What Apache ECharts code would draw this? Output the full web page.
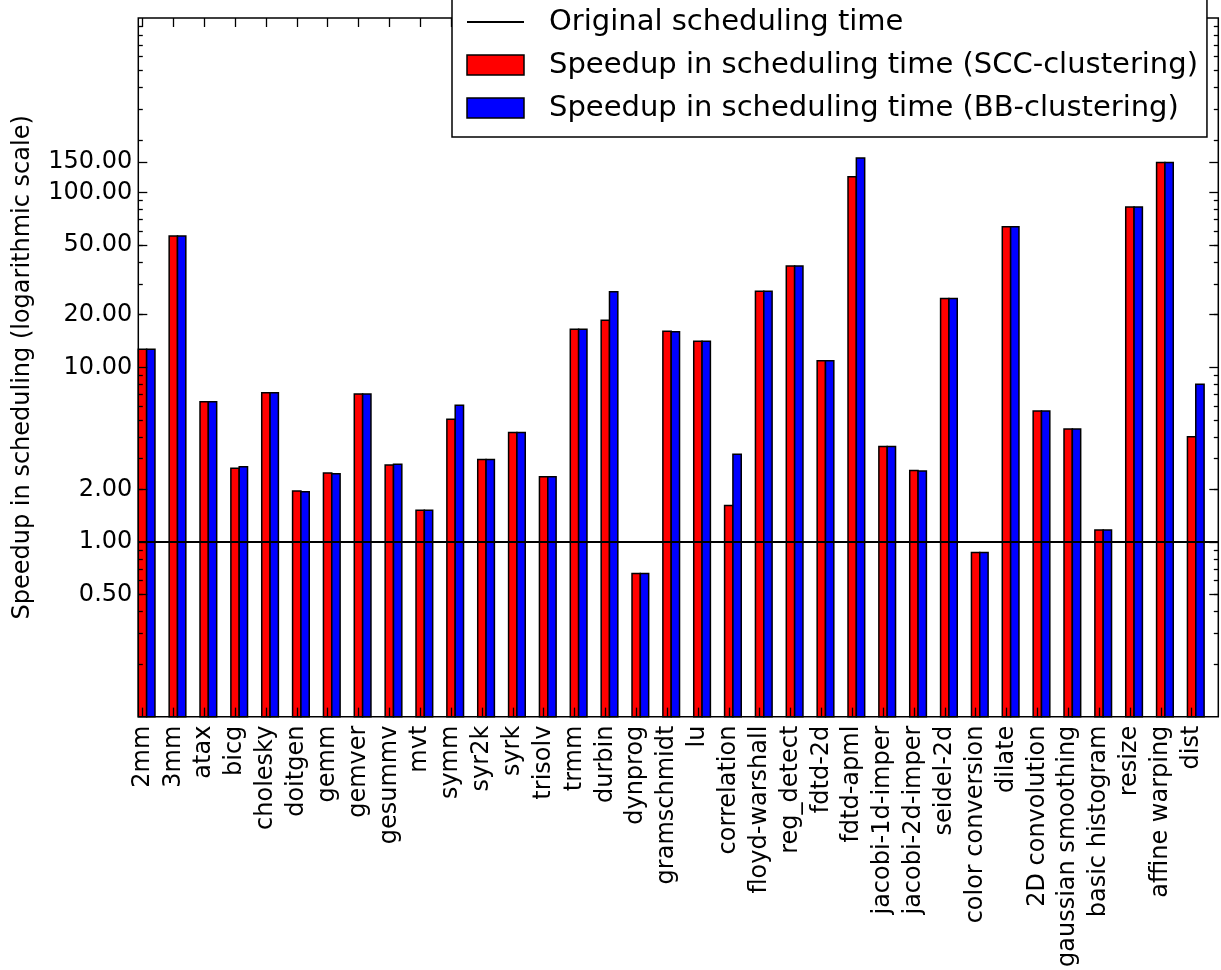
<!DOCTYPE html>
<html><head><meta charset="utf-8">
<script src="https://cdn.jsdelivr.net/npm/echarts@6/dist/echarts.min.js"></script>
<style>html,body{margin:0;padding:0;background:#fff}#c{width:1221px;height:970px}</style>
</head><body><div id="c"></div>
<script>
const categories = ['2mm','3mm','atax','bicg','cholesky','doitgen','gemm','gemver','gesummv','mvt','symm','syr2k','syrk','trisolv','trmm','durbin','dynprog','gramschmidt','lu','correlation','floyd-warshall','reg_detect','fdtd-2d','fdtd-apml','jacobi-1d-imper','jacobi-2d-imper','seidel-2d','color conversion','dilate','2D convolution','gaussian smoothing','basic histogram','resize','affine warping','dist'];
const sccSpeedup = [12.7,56.4,6.36,2.64,7.16,1.96,2.48,7.03,2.76,1.52,5.04,2.97,4.23,2.36,16.5,18.6,0.66,16.1,14.1,1.62,27.3,38.0,10.9,123.5,3.52,2.57,24.8,0.87,63.9,5.62,4.43,1.17,82.7,149,4.01];
const bbSpeedup  = [12.7,56.4,6.36,2.70,7.16,1.94,2.46,7.03,2.79,1.52,6.06,2.97,4.23,2.36,16.5,27.1,0.66,16.0,14.1,3.18,27.3,38.0,10.9,157.8,3.52,2.55,24.8,0.87,63.9,5.62,4.43,1.17,82.7,149,7.99];
const originalTime = 1;
const yTickLabels = [0.5,1,2,10,20,50,100,150];
const yMinorTicks = [0.2,0.3,0.4,0.5,0.6,0.7,0.8,0.9,2,3,4,5,6,7,8,9,20,30,40,50,60,70,80,90,200,300,400,500,600,700,800,900];
const seriesNames = ['Original scheduling time','Speedup in scheduling time (SCC-clustering)','Speedup in scheduling time (BB-clustering)'];

const Y_MIN = 0.1, Y_MAX = 1000;
const BAR_W = 0.27;
const TICK_OFF = 0.135;
const xTickPos = categories.map((c, i) => i + TICK_OFF);
const FONT = 'DejaVu Sans';

function barRender(slot, color) {
  return function (params, api) {
    const i = api.value(0), v = api.value(1);
    const p0 = api.coord([i + slot * BAR_W, v]);
    const p1 = api.coord([i + (slot + 1) * BAR_W, Y_MIN]);
    return {
      type: 'rect',
      shape: { x: p0[0], y: p0[1], width: p1[0] - p0[0], height: p1[1] - p0[1] },
      style: { fill: color, stroke: '#000', lineWidth: 1.5 }
    };
  };
}

function yAxisDef(pos, ticks, len, labels) {
  return {
    type: 'log', logBase: 10, min: Y_MIN, max: Y_MAX, position: pos, z: 5,
    axisLine: { show: false },
    splitLine: { show: false },
    minorTick: { show: false },
    axisTick: { show: true, inside: true, length: len, customValues: ticks, lineStyle: { color: '#000', width: 1.3 } },
    axisLabel: labels ? { show: true, customValues: yTickLabels, formatter: v => Number(v).toFixed(2), fontSize: 24, color: '#000', fontFamily: FONT, margin: 6 } : { show: false },
    name: labels ? 'Speedup in scheduling (logarithmic scale)' : '',
    nameLocation: 'middle', nameGap: 104,
    nameTextStyle: { fontSize: 24, color: '#000', fontFamily: FONT }
  };
}
function xAxisDef(pos, labels) {
  return {
    type: 'value', min: 0, max: categories.length, position: pos, z: 5,
    axisLine: { show: false }, splitLine: { show: false },
    axisTick: { show: true, inside: true, length: 9, customValues: xTickPos, lineStyle: { color: '#000', width: 1.3 } },
    axisLabel: labels ? { show: true, customValues: xTickPos, rotate: 90, formatter: v => categories[Math.round(v - TICK_OFF)], fontSize: 24, color: '#000', fontFamily: FONT, margin: 9 } : { show: false }
  };
}

const chart = echarts.init(document.getElementById('c'), null, { renderer: 'canvas' });
chart.setOption({
  animation: false,
  textStyle: { fontFamily: FONT },
  grid: { left: 138.3, right: 2.7, top: 18, bottom: 253.3, show: true, borderColor: '#000', borderWidth: 1.5, backgroundColor: 'transparent' },
  xAxis: [xAxisDef('bottom', true), xAxisDef('top', false)],
  yAxis: [yAxisDef('left', yTickLabels, 9, true), yAxisDef('left', yMinorTicks, 4.5, false), yAxisDef('right', yTickLabels, 9, false), yAxisDef('right', yMinorTicks, 4.5, false)],
  legend: {
    orient: 'vertical', left: 452, top: -7, padding: [14, 9, 14, 14], itemGap: 13, z: 10,
    itemWidth: 57, itemHeight: 20, backgroundColor: '#fff', borderColor: '#000', borderWidth: 1.5,
    textStyle: { fontSize: 29, lineHeight: 30, fontFamily: FONT, color: '#000', padding: [0, 0, 0, 20] },
    data: [
      { name: seriesNames[0], itemStyle: { color: 'transparent', borderColor: 'transparent', borderWidth: 0, opacity: 0 }, lineStyle: { color: '#000', width: 2 } },
      { name: seriesNames[1], icon: 'rect', itemStyle: { color: '#ff0000', borderColor: '#000', borderWidth: 1.5 } },
      { name: seriesNames[2], icon: 'rect', itemStyle: { color: '#0000ff', borderColor: '#000', borderWidth: 1.5 } }
    ]
  },
  series: [
    {
      name: seriesNames[0], type: 'line', symbol: 'none', data: [],
      lineStyle: { color: '#000', width: 2 }, itemStyle: { color: '#000' },
      markLine: { silent: true, symbol: ['none', 'none'], label: { show: false }, lineStyle: { color: '#000', width: 2, type: 'solid' }, data: [{ yAxis: originalTime }] }
    },
    { name: seriesNames[1], type: 'custom', renderItem: barRender(0, '#ff0000'), itemStyle: { color: '#ff0000' }, data: sccSpeedup.map((v, i) => [i, v]) },
    { name: seriesNames[2], type: 'custom', renderItem: barRender(1, '#0000ff'), itemStyle: { color: '#0000ff' }, data: bbSpeedup.map((v, i) => [i, v]) }
  ]
});
</script></body></html>
